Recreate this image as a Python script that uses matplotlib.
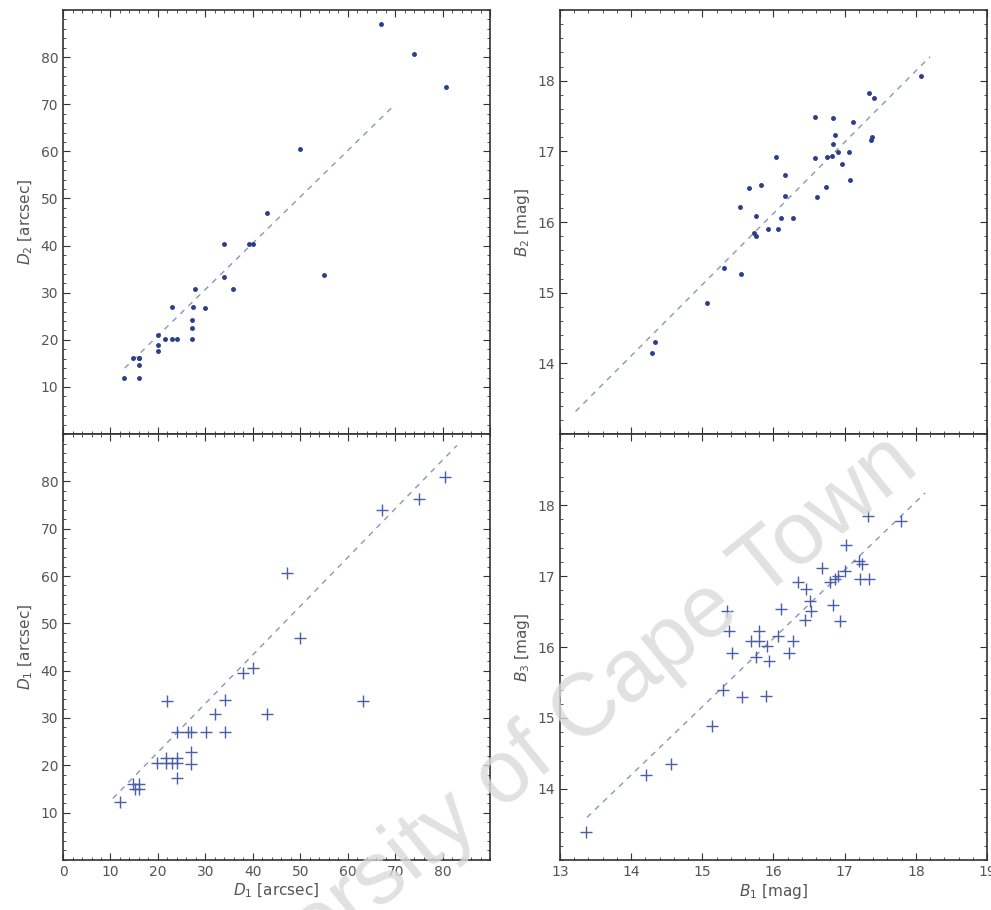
import numpy as np
import matplotlib
matplotlib.use("Agg")
import matplotlib.pyplot as plt
from matplotlib.ticker import MultipleLocator

# diameters (arcsec): x = D1, y = D2 (top) and D1 other estimate (bottom)
d_top_x = [12.8, 16.1, 16.1, 14.8, 16.1, 20.1, 20.1, 20.1, 21.5, 23.0, 24.0,
           27.1, 27.1, 27.1, 23.0, 27.4, 27.9, 29.9, 33.9, 33.9, 35.9, 39.2,
           40.0, 43.0, 55.0, 50.0, 67.1, 74.0, 80.8, 16.1]
d_top_y = [12.0, 11.8, 14.7, 16.2, 16.2, 21.1, 19.0, 17.6, 20.2, 20.2, 20.2,
           20.2, 22.5, 24.3, 26.9, 27.0, 30.8, 26.8, 33.3, 40.3, 30.7, 40.3,
           40.3, 47.0, 33.8, 60.4, 87.1, 80.6, 73.7, 16.2]
d_top_fit = ([13.0, 70.0], [14.0, 70.0])

d_bot_x = [12.0, 14.8, 16.1, 15.2, 16.1, 19.7, 21.8, 22.9, 24.1, 21.8, 24.1,
           24.1, 26.9, 26.9, 24.1, 26.4, 26.9, 30.1, 34.1, 32.0, 22.0, 34.1,
           43.0, 38.0, 40.1, 49.9, 47.2, 67.3, 75.0, 80.4, 63.2]
d_bot_y = [12.2, 16.1, 16.1, 14.9, 14.9, 20.5, 20.5, 20.5, 20.5, 21.5, 21.5,
           17.4, 22.8, 20.3, 27.0, 27.1, 27.0, 27.0, 27.0, 30.8, 33.6, 33.8,
           30.9, 39.6, 40.6, 46.9, 60.6, 74.0, 76.2, 80.9, 33.6]
d_bot_fit = ([10.5, 83.0], [13.0, 87.6])

# B magnitudes: x = B1, y = B2 (top) and B3 (bottom)
b_top_x = [14.30, 14.33, 15.07, 15.30, 15.55, 15.72, 15.76, 15.93, 16.07, 15.75,
           16.10, 16.28, 15.53, 16.16, 15.66, 15.83, 16.16, 16.03, 16.61, 16.74,
           16.59, 16.75, 16.82, 16.90, 16.96, 17.06, 17.07, 16.84, 16.87, 16.58,
           16.83, 17.12, 17.37, 17.39, 17.34, 17.41, 18.07]
b_top_y = [14.15, 14.30, 14.85, 15.35, 15.27, 15.85, 15.80, 15.90, 15.90, 16.08,
           16.06, 16.06, 16.21, 16.37, 16.48, 16.52, 16.66, 16.92, 16.35, 16.49,
           16.90, 16.92, 16.94, 16.99, 16.82, 16.99, 16.60, 17.10, 17.23, 17.49,
           17.47, 17.41, 17.16, 17.20, 17.82, 17.76, 18.07]
b_top_fit = ([13.22, 18.2], [13.32, 18.34])

b_bot_x = [13.37, 14.21, 14.56, 15.13, 15.29, 15.56, 15.89, 15.42, 15.37, 15.35,
           15.69, 15.79, 15.79, 15.91, 15.75, 15.94, 16.07, 16.27, 16.22, 16.10,
           16.44, 16.53, 16.51, 16.35, 16.45, 16.68, 16.84, 16.93, 16.79, 16.87,
           17.00, 16.90, 17.21, 17.34, 17.20, 17.24, 17.02, 17.33, 17.79]
b_bot_y = [13.39, 14.19, 14.35, 14.89, 15.40, 15.29, 15.31, 15.92, 16.22, 16.51,
           16.08, 16.08, 16.22, 16.02, 15.86, 15.80, 16.16, 16.08, 15.92, 16.54,
           16.38, 16.51, 16.65, 16.92, 16.82, 17.12, 16.59, 16.36, 16.92, 16.96,
           17.07, 17.00, 16.96, 16.96, 17.21, 17.17, 17.44, 17.84, 17.77]
b_bot_fit = ([13.38, 18.13], [13.6, 18.17])

dot_col = "#2b3d8c"
plus_col = "#4a5ea8"
line_col = "#8a96b4"

fig = plt.figure(figsize=(9.91, 9.10), dpi=100)
ax_tl = fig.add_axes([0.0636, 0.523, 0.431, 0.466])
ax_bl = fig.add_axes([0.0636, 0.055, 0.431, 0.468])
ax_tr = fig.add_axes([0.565, 0.523, 0.431, 0.466])
ax_br = fig.add_axes([0.565, 0.055, 0.431, 0.468])


def style(ax, lo, hi, major, minor):
    ax.set_xlim(lo, hi)
    ax.set_ylim(lo, hi)
    ax.xaxis.set_major_locator(MultipleLocator(major))
    ax.yaxis.set_major_locator(MultipleLocator(major))
    ax.xaxis.set_minor_locator(MultipleLocator(minor))
    ax.yaxis.set_minor_locator(MultipleLocator(minor))
    ax.tick_params(which="both", direction="in", top=True, right=True,
                   labelsize=10, colors="#333333", labelcolor="#555555")
    ax.tick_params(which="major", length=5)
    ax.tick_params(which="minor", length=2.5)
    for s in ax.spines.values():
        s.set_color("#333333")
        s.set_linewidth(1.2)


# diameters
ax_tl.plot(d_top_fit[0], d_top_fit[1], ls=(0, (4, 4)), color=line_col, lw=1)
ax_tl.plot(d_top_x, d_top_y, ".", color=dot_col, ms=5)
style(ax_tl, 0, 90, 10, 2)
ax_tl.set_yticks(np.arange(10, 90, 10))
ax_tl.tick_params(labelbottom=False)
ax_tl.set_ylabel("$D_2$ [arcsec]", fontsize=11, color="#555555")

ax_bl.plot(d_bot_fit[0], d_bot_fit[1], ls=(0, (4, 4)), color=line_col, lw=1)
ax_bl.plot(d_bot_x, d_bot_y, "+", color=plus_col, ms=8, mew=1)
style(ax_bl, 0, 90, 10, 2)
ax_bl.set_xticks(np.arange(0, 90, 10))
ax_bl.set_yticks(np.arange(10, 90, 10))
ax_bl.set_xlabel("$D_1$ [arcsec]", fontsize=11, color="#555555", labelpad=2)
ax_bl.set_ylabel("$D_1$ [arcsec]", fontsize=11, color="#555555")

# magnitudes
ax_tr.plot(b_top_fit[0], b_top_fit[1], ls=(0, (4, 4)), color=line_col, lw=1)
ax_tr.plot(b_top_x, b_top_y, ".", color=dot_col, ms=5)
style(ax_tr, 13, 19, 1, 0.2)
ax_tr.set_yticks(np.arange(14, 19, 1))
ax_tr.tick_params(labelbottom=False)
ax_tr.set_ylabel("$B_2$ [mag]", fontsize=11, color="#555555")

ax_br.plot(b_bot_fit[0], b_bot_fit[1], ls=(0, (4, 4)), color=line_col, lw=1)
ax_br.plot(b_bot_x, b_bot_y, "+", color=plus_col, ms=8, mew=1)
style(ax_br, 13, 19, 1, 0.2)
ax_br.set_yticks(np.arange(14, 19, 1))
ax_br.set_xlabel("$B_1$ [mag]", fontsize=11, color="#555555", labelpad=2)
ax_br.set_ylabel("$B_3$ [mag]", fontsize=11, color="#555555")

# watermark
fig.text(0.54, 0.172, "University of Cape Town", fontsize=64,
         family="Liberation Sans", color="#dadada", alpha=0.8,
         rotation=39, ha="center", va="center", zorder=10)

fig.savefig("out.png", dpi=100)
